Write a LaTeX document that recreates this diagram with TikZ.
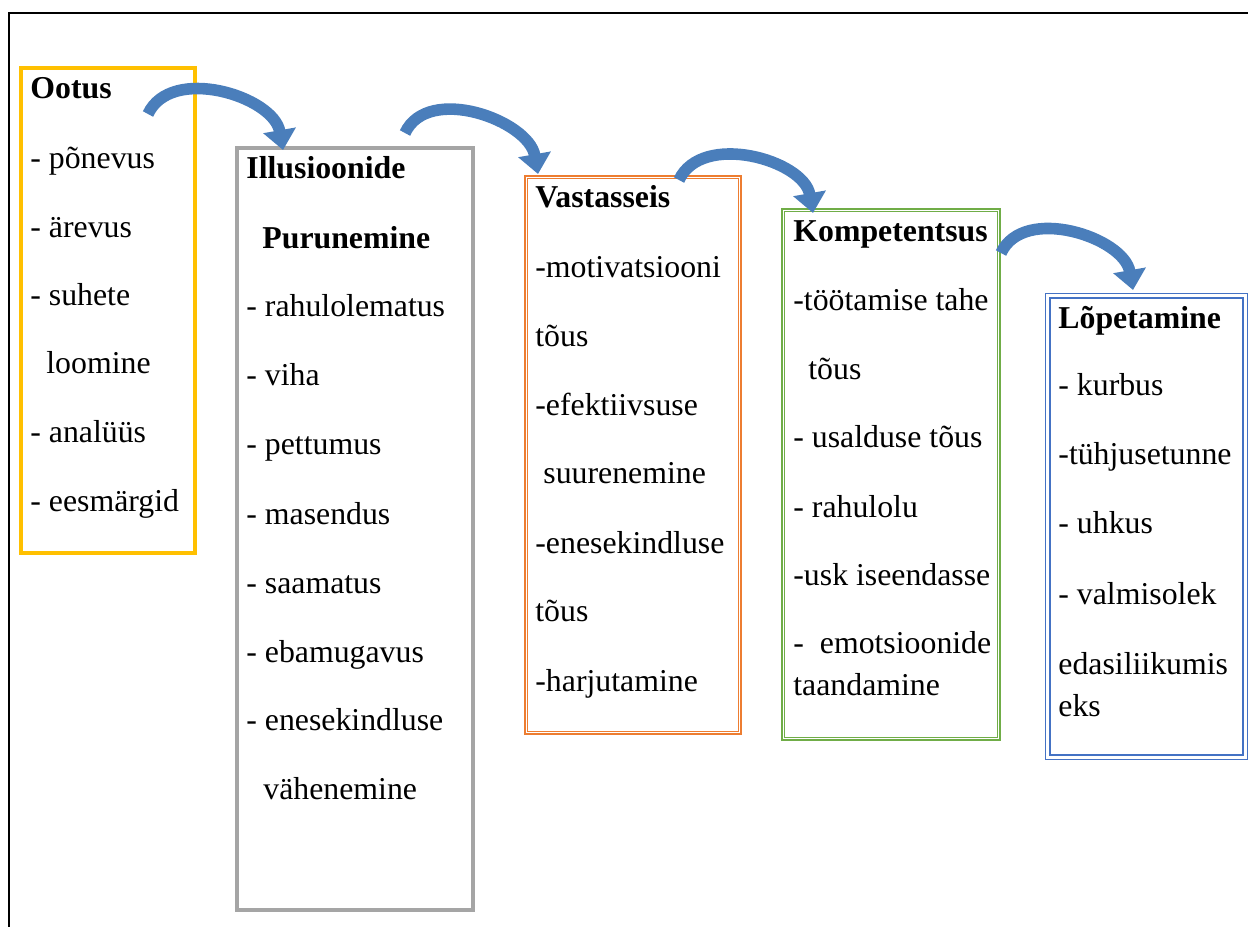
\documentclass[tikz,border=0pt]{standalone}
\usepackage{fontspec}
\setmainfont{Liberation Serif}
\usepackage{tikz}
\usetikzlibrary{arrows.meta,positioning}
\usetikzlibrary{fit}
\definecolor{ootusc}{HTML}{FFC000}
\definecolor{illuc}{HTML}{A5A5A5}
\definecolor{vastc}{HTML}{ED7D31}
\definecolor{kompc}{HTML}{70AD47}
\definecolor{loppc}{HTML}{4472C4}
\definecolor{arrowblue}{HTML}{4A7EBB}
\tikzset{
 item/.style={anchor=base west, inner sep=0pt, font=\fontsize{15.9}{19}\selectfont},
 head/.style={item, font=\fontsize{15.9}{19}\selectfont\bfseries},
 thickline/.style={draw=#1, line width=1.4pt, inner sep=0pt},
 thinline/.style={draw=#1, line width=0.55pt},
 bluearrow/.style={-{Triangle[length=10pt,width=16pt]}, draw=arrowblue, line width=5.8pt}
}

\begin{document}
\begin{tikzpicture}[x=0.5pt,y=0.5pt]
\useasboundingbox (0,0) rectangle (1248,-927);
\draw[line width=1pt] (1248,-13) -- (9,-13) -- (9,-927);

% boxes
\node[thickline=ootusc, line width=2pt, fit={(21,-68) (195,-553)}] (ootus) {};
\node[thickline=illuc, fit={(236.5,-147.5) (473.5,-910.5)}] (illu) {};
\draw[thinline=illuc] ([shift={(1.75pt,-1.75pt)}]illu.north west) rectangle ([shift={(-1.75pt,1.75pt)}]illu.south east);
\node[thickline=vastc, fit={(525,-176) (741,-734)}] (vast) {};
\draw[thinline=vastc] ([shift={(1.75pt,-1.75pt)}]vast.north west) rectangle ([shift={(-1.75pt,1.75pt)}]vast.south east);
\node[thickline=kompc, fit={(782,-209) (1000,-740)}] (komp) {};
\draw[thinline=kompc] ([shift={(1.75pt,-1.75pt)}]komp.north west) rectangle ([shift={(-1.75pt,1.75pt)}]komp.south east);
\node[thickline=loppc, fit={(1050,-298) (1243,-755)}] (lopp) {};
\draw[thinline=loppc] ([shift={(-1.75pt,1.75pt)}]lopp.north west) rectangle ([shift={(1.75pt,-1.75pt)}]lopp.south east);

% Ootus
\node[head] (o0) at (30,-98) {Ootus};
\node[item] (o1) at (30,-168) {- põnevus};
\node[item] (o2) at (30,-237) {- ärevus};
\node[item] (o3) at (30,-305) {- suhete};
\node[item] (o4) at (46,-373) {loomine};
\node[item] (o5) at (30,-442) {- analüüs};
\node[item] (o6) at (30,-511) {- eesmärgid};

% Illusioonide purunemine
\node[head] (i0) at (246,-178) {Illusioonide};
\node[head] (i1) at (262,-248) {Purunemine};
\node[item] (i2) at (246,-316) {- rahulolematus};
\node[item] (i3) at (246,-385) {- viha};
\node[item] (i4) at (246,-454) {- pettumus};
\node[item] (i5) at (246,-524) {- masendus};
\node[item] (i6) at (246,-593) {- saamatus};
\node[item] (i7) at (246,-662) {- ebamugavus};
\node[item] (i8) at (246,-730) {- enesekindluse};
\node[item] (i9) at (263,-799) {vähenemine};

% Vastasseis
\node[head] (v0) at (535,-207) {Vastasseis};
\node[item] (v1) at (535,-277) {-motivatsiooni};
\node[item] (v2) at (535,-346) {tõus};
\node[item] (v3) at (535,-415) {-efektiivsuse};
\node[item] (v4) at (543,-483) {suurenemine};
\node[item] (v5) at (535,-553) {-enesekindluse};
\node[item] (v6) at (535,-621) {tõus};
\node[item] (v7) at (535,-691) {-harjutamine};

% Kompetentsus
\node[head] (k0) at (793,-241) {Kompetentsus};
\node[item] (k1) at (793,-310) {-töötamise tahe};
\node[item] (k2) at (808,-379) {tõus};
\node[item] (k3) at (793,-447) {- usalduse tõus};
\node[item] (k4) at (793,-517) {- rahulolu};
\node[item] (k5) at (793,-585) {-usk iseendasse};
\node[item] (k6) at (793,-653) {-~~emotsioonide};
\node[item] (k7) at (793,-695) {taandamine};

% Lõpetamine
\node[head] (l0) at (1058,-328) {Lõpetamine};
\node[item] (l1) at (1058,-395) {- kurbus};
\node[item] (l2) at (1058,-464) {-tühjusetunne};
\node[item] (l3) at (1058,-533) {- uhkus};
\node[item] (l4) at (1058,-604) {- valmisolek};
\node[item] (l5) at (1058,-674) {edasiliikumis};
\node[item] (l6) at (1058,-716) {eks};

% arrows
\coordinate (t1) at (148,-114);
\coordinate (h1) at (283,-150);
\coordinate (t2) at (405,-133);
\coordinate (h2) at (538,-174);
\coordinate (t3) at (679,-180);
\coordinate (h3) at (813,-213);
\coordinate (t4) at (1001,-253);
\coordinate (h4) at (1133,-290);
\draw[bluearrow] (t1) to[out=65,in=100] (h1);
\draw[bluearrow] (t2) to[out=65,in=100] (h2);
\draw[bluearrow] (t3) to[out=65,in=100] (h3);
\draw[bluearrow] (t4) to[out=65,in=100] (h4);
\end{tikzpicture}
\end{document}
